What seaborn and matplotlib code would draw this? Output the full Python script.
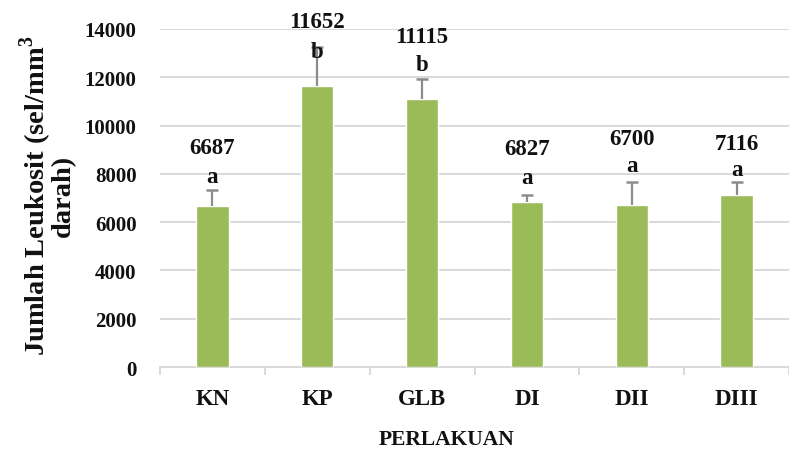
import matplotlib
matplotlib.use("Agg")
import matplotlib.pyplot as plt
import seaborn as sns
import pandas as pd
import numpy as np

# Leukocyte counts per treatment group
categories = ["KN", "KP", "GLB", "DI", "DII", "DIII"]
means = [6687, 11652, 11115, 6827, 6700, 7116]
errors = [650, 1600, 810, 290, 960, 560]
letters = ["a", "b", "b", "a", "a", "a"]

# baseline offsets of the labels above the error-bar tip, in points
letter_off = [5.5, -7.0, 6.6, 9.1, 7.7, 4.8]
value_off = [26.3, 14.1, 27.0, 29.9, 27.7, 23.4]

sns.set_theme(style="white")
plt.rcParams["font.family"] = ["Liberation Serif", "DejaVu Serif"]
plt.rcParams["font.weight"] = "bold"
plt.rcParams["mathtext.fontset"] = "custom"
plt.rcParams["mathtext.bf"] = "Liberation Serif:bold"
plt.rcParams["mathtext.rm"] = "Liberation Serif:bold"

TXT = "#111111"
GRID = "#d9d9d9"

df = pd.DataFrame({"Perlakuan": categories, "Leukosit": means})

fig = plt.figure(figsize=(7.89, 4.52), dpi=100)
ax = fig.add_axes([160 / 789, 1 - 368 / 452, 629 / 789, 338 / 452])

sns.barplot(data=df, x="Perlakuan", y="Leukosit", color="#9BBB59",
            saturation=1, width=0.31, errorbar=None, ax=ax, zorder=3)

# upper-only error bars with a cap at the tip
xs = np.arange(len(categories))
tops = np.array(means) + np.array(errors)
ax.vlines(xs, means, tops, color="#8c8c8c", linewidth=1.6, zorder=4)
ax.plot(xs, tops, linestyle="none", marker="_", markersize=8.5,
        markeredgewidth=1.8, color="#8c8c8c", zorder=4)

for x, t, m, lt, lo, vo in zip(xs, tops, means, letters, letter_off, value_off):
    ax.annotate(lt, (x, t), xytext=(0, lo), textcoords="offset points",
                ha="center", va="baseline", fontsize=16.5, fontweight="bold",
                color=TXT, zorder=5, annotation_clip=False)
    ax.annotate(f"{m}", (x, t), xytext=(0, vo), textcoords="offset points",
                ha="center", va="baseline", fontsize=16.5, fontweight="bold",
                color=TXT, zorder=5, annotation_clip=False)

ax.set_ylim(0, 14000)
ax.set_xlim(-0.5, 5.406)
ax.set_yticks(np.arange(0, 14001, 2000))
ax.yaxis.grid(True, color=GRID, linewidth=1.4, zorder=0)
ax.set_axisbelow(True)

for s in ["top", "right", "left"]:
    ax.spines[s].set_visible(False)
ax.spines["bottom"].set_color(GRID)
ax.spines["bottom"].set_linewidth(1.4)

ax.tick_params(axis="y", length=0, pad=17, labelsize=15)
ax.tick_params(axis="x", which="major", length=0, pad=15, labelsize=16.5)
ax.set_xticks(np.arange(-0.5, 6.0, 1.0), minor=True)
ax.tick_params(axis="x", which="minor", length=6, width=1.4, color=GRID,
               direction="out", bottom=True)
for lbl in ax.get_xticklabels() + ax.get_yticklabels():
    lbl.set_fontweight("bold")
    lbl.set_color(TXT)

ax.set_xlabel("")
ax.set_ylabel("")
fig.text(447 / 789, 1 - 440 / 452, "PERLAKUAN", ha="center", va="center",
         fontsize=15.5, fontweight="bold", color=TXT)
fig.text(47 / 789, 1 - 196 / 452,
         "Jumlah Leukosit (sel/mm$^{\\mathbf{3}}$\ndarah)",
         rotation=90, ha="center", va="center", multialignment="center",
         fontsize=20.5, fontweight="bold", color=TXT, linespacing=0.82)

fig.savefig("out.png", dpi=100)
